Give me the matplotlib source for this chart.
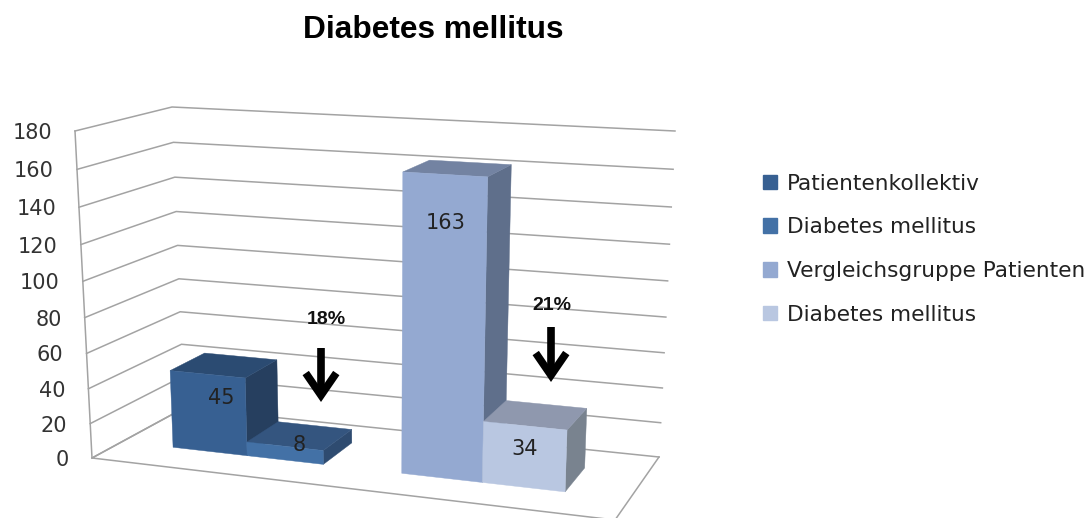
import numpy as np
import matplotlib
matplotlib.use("Agg")
import matplotlib.pyplot as plt
from matplotlib.patches import Patch

# Chart data
series_names = ["Patientenkollektiv", "Diabetes mellitus", "Vergleichsgruppe Patienten", "Diabetes mellitus"]
series_values = [45, 8, 163, 34]
y_ticks = [0, 20, 40, 60, 80, 100, 120, 140, 160, 180]
pct_labels = ["18%", "21%"]

# Face colours per bar
front_colors = ["#376092", "#4371a6", "#94a9d1", "#b9c7e1"]
top_colors = ["#2b4b72", "#34557f", "#7383a2", "#8f98ae"]
side_colors = ["#263f5f", "#2e4b70", "#5f6f8b", "#79838f"]

# Category slots: bar, bar, gap, bar, bar
bar_slots = [0, 1, 3, 4]
depth_front = 0.33
depth_back = 0.72

# Plot box corners, in canvas pixels
floor_fl, floor_fr = np.array([92, 458.0]), np.array([615, 520.0])
floor_bl, floor_br = np.array([184, 408.0]), np.array([659, 457.0])
top_fl, top_fr = np.array([75, 131.0]), np.array([629, 161.0])
top_bl, top_br = np.array([172, 107.0]), np.array([675, 131.0])


def slot_to_u(p):
    # bars get slightly wider towards the right
    return 0.1 + 0.14385 * p + 0.00215 * p ** 2


def value_frac(v):
    s = v / 180
    return 0.94 * s / (1 - 0.06 * s)


def corners(a, b, c, d, u, dep):
    front = a + u * (b - a)
    back = c + u * (d - c)
    return front + dep * (back - front)


def project(u, dep, v):
    low = corners(floor_fl, floor_fr, floor_bl, floor_br, u, dep)
    high = corners(top_fl, top_fr, top_bl, top_br, u, dep)
    return low + value_frac(v) * (high - low)


def draw_bar(ax, slot, value, front, top, side, z):
    u0, u1 = slot_to_u(slot), slot_to_u(slot + 1)
    faces = [
        ([(u1, depth_front, 0), (u1, depth_back, 0), (u1, depth_back, value), (u1, depth_front, value)], side),
        ([(u0, depth_front, value), (u1, depth_front, value), (u1, depth_back, value), (u0, depth_back, value)], top),
        ([(u0, depth_front, 0), (u1, depth_front, 0), (u1, depth_front, value), (u0, depth_front, value)], front),
    ]
    for pts, color in faces:
        xy = np.array([project(*p) for p in pts])
        ax.fill(xy[:, 0], xy[:, 1], color=color, lw=0.3, zorder=z)


fig = plt.figure(figsize=(10.9, 5.18), dpi=100)
ax = fig.add_axes([0, 0, 1, 1])
ax.set_xlim(0, 1090)
ax.set_ylim(518, 0)
ax.axis("off")

# Gridlines on the two walls
grid_color = "#a3a3a3"
for t in y_ticks:
    xy = np.array([project(0, 0, t), project(0, 1, t), project(1, 1, t)])
    ax.plot(xy[:, 0], xy[:, 1], color=grid_color, lw=1.1, zorder=1)
    ax.text(xy[0, 0] - 23, xy[0, 1] + 2, str(t), ha="right", va="center",
            fontsize=15, color="#333333", family="DejaVu Sans")

# Value axis edge and floor outline
edge = np.array([project(0, 0, 0), project(0, 0, 180)])
ax.plot(edge[:, 0], edge[:, 1], color=grid_color, lw=1.1, zorder=1)
floor = np.array([floor_bl, floor_fl, floor_fr, floor_br])
ax.plot(floor[:, 0], floor[:, 1], color=grid_color, lw=1.1, zorder=1)

# Bars
for i, val in enumerate(series_values):
    draw_bar(ax, bar_slots[i], val, front_colors[i], top_colors[i], side_colors[i], 2 + i)

# Value labels
label_xy = [(221, 398), (299, 445), (446, 223), (525, 449)]
for (x, y), val in zip(label_xy, series_values):
    ax.text(x, y, str(val), ha="center", va="center", fontsize=15, color="#222222", zorder=10)

# Share labels and arrows
pct_xy = [(326, 320), (552, 305)]
arrow_x = [321, 551]
arrow_y = [(348, 402), (327, 382)]
for (x, y), s in zip(pct_xy, pct_labels):
    ax.text(x, y, s, ha="center", va="center", fontsize=14, fontweight="bold",
            family="Liberation Sans", color="#111111", zorder=10)
for x, (y0, y1) in zip(arrow_x, arrow_y):
    ax.annotate("", xy=(x, y1), xytext=(x, y0), zorder=11,
                arrowprops=dict(arrowstyle="->,head_length=0.8,head_width=0.55", color="black",
                                lw=5.5, mutation_scale=20, shrinkA=0, shrinkB=0,
                                capstyle="butt", joinstyle="miter"))

# Title
ax.text(433, 30, "Diabetes mellitus", ha="center", va="center", fontsize=22.8,
        fontweight="bold", family="Liberation Sans", color="black")

# Legend
handles = [Patch(color=c, label=n) for c, n in zip(front_colors, series_names)]
ax.legend(handles=handles, loc="upper left", bbox_to_anchor=(754, 165), bbox_transform=ax.transData,
          frameon=False, fontsize=15.6, handlelength=0.65, handleheight=0.65, handletextpad=0.47,
          labelspacing=1.09, labelcolor="#222222", borderpad=0.4, borderaxespad=0)

fig.savefig("out.png", dpi=100)
